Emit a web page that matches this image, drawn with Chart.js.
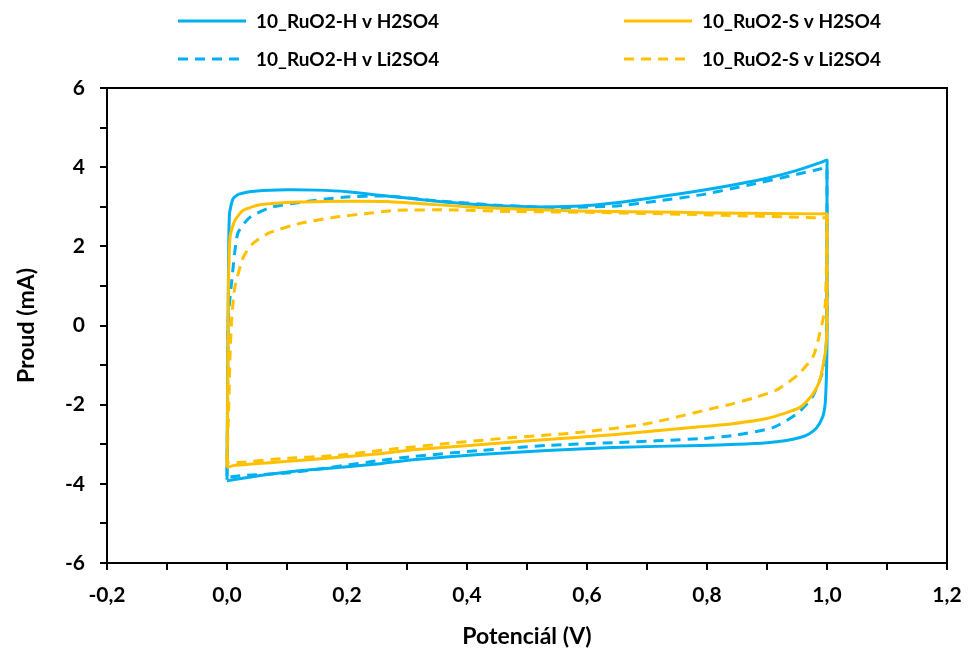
<!DOCTYPE html>
<html>
  <head>
    <title>CV RuO2</title>
    <script src="https://cdn.jsdelivr.net/npm/chart.js@4.4.0/dist/chart.umd.min.js"></script>
    <style>
      body { margin: 0; background: #fff; }
    </style>
  </head>
  <body>
    <canvas id="cvChart" width="970" height="653"></canvas>

    <script>
      // series labels
      var labels = ["10_RuO2-H v H2SO4", "10_RuO2-H v Li2SO4", "10_RuO2-S v H2SO4", "10_RuO2-S v Li2SO4"];

      // 10_RuO2-H v H2SO4 (potential V, current mA)
      var hH2Pot = [0, 0.001, 0.002, 0.004, 0.01, 0.02, 0.05, 0.1, 0.15, 0.2, 0.255, 0.3, 0.35, 0.42, 0.5, 0.55, 0.6, 0.66, 0.72, 0.79, 0.85, 0.9, 0.95, 0.99, 1.0,
                    1.0, 1.0, 1.0, 1.0, 0.999, 0.997, 0.993, 0.983, 0.97, 0.955, 0.93, 0.9, 0.85, 0.79, 0.643, 0.533, 0.42, 0.31, 0.255, 0.2, 0.12, 0.05, 0.0];
      var hH2Cur = [-3.9, -1.5, 0.5, 2.8, 3.2, 3.32, 3.4, 3.43, 3.42, 3.38, 3.29, 3.22, 3.14, 3.05, 3.0, 3.0, 3.03, 3.12, 3.25, 3.41, 3.57, 3.72, 3.92, 4.12, 4.18,
                    4.05, 2.0, 0, -0.5, -1.3, -1.97, -2.3, -2.58, -2.74, -2.83, -2.91, -2.96, -3.0, -3.03, -3.08, -3.16, -3.26, -3.39, -3.49, -3.57, -3.67, -3.8, -3.92];

      // 10_RuO2-H v Li2SO4
      var hLiPot = [0, 0.001, 0.002, 0.008, 0.018, 0.038, 0.072, 0.122, 0.193, 0.267, 0.35, 0.45, 0.55, 0.65, 0.72, 0.79, 0.87, 0.95, 0.99, 1.0,
                    1.0, 1.0, 1.0, 0.999, 0.997, 0.992, 0.975, 0.95, 0.91, 0.843, 0.788, 0.643, 0.533, 0.42, 0.31, 0.255, 0.105, 0.027, 0.008, 0];
      var hLiCur = [-3.8, -2.0, 0.13, 1.14, 2.33, 2.73, 2.98, 3.11, 3.24, 3.27, 3.15, 3.04, 2.98, 3.02, 3.15, 3.3, 3.55, 3.82, 3.96, 4.0,
                    3.9, 2.0, 0, -0.4, -0.71, -1.21, -1.82, -2.23, -2.58, -2.78, -2.86, -2.96, -3.03, -3.16, -3.31, -3.41, -3.72, -3.79, -3.82, -3.8];

      // 10_RuO2-S v H2SO4
      var sH2Pot = [0, 0.001, 0.002, 0.005, 0.013, 0.027, 0.055, 0.12, 0.2, 0.267, 0.42, 0.588, 0.755, 0.82, 0.99, 1.0,
                    1.0, 1.0, 1.0, 0.999, 0.997, 0.988, 0.977, 0.955, 0.9, 0.843, 0.788, 0.643, 0.533, 0.42, 0.31, 0.255, 0.12, 0.01, 0];
      var sH2Cur = [-3.59, -2.0, 0.56, 2.23, 2.65, 2.91, 3.05, 3.12, 3.14, 3.13, 2.98, 2.89, 2.86, 2.84, 2.82, 2.82,
                    2.7, 1.5, 0, -0.4, -0.71, -1.39, -1.72, -2.07, -2.35, -2.48, -2.56, -2.76, -2.88, -3.01, -3.14, -3.24, -3.41, -3.54, -3.59];

      // 10_RuO2-S v Li2SO4
      var sLiPot = [0, 0.003, 0.005, 0.008, 0.013, 0.027, 0.043, 0.072, 0.122, 0.177, 0.233, 0.283, 0.38, 0.477, 0.6, 0.788, 0.99, 1.0,
                    1.0, 0.999, 0.997, 0.993, 0.988, 0.977, 0.952, 0.917, 0.88, 0.842, 0.808, 0.7, 0.588, 0.477, 0.367, 0.283, 0.177, 0.093, 0.022, 0];
      var sLiCur = [-3.46, -2.0, -0.8, 0.2, 0.96, 1.72, 2.07, 2.35, 2.58, 2.73, 2.83, 2.91, 2.92, 2.88, 2.86, 2.8, 2.72, 2.72,
                    2.6, 1.5, 0.5, 0.13, -0.2, -0.78, -1.24, -1.62, -1.82, -1.98, -2.1, -2.48, -2.7, -2.83, -2.98, -3.11, -3.29, -3.36, -3.46, -3.46];

      var blue = "#00B0F0";
      var yellow = "#FFC000";
      var fontName = "Lato, Carlito, Calibri, sans-serif";

      function toPoints(xs, ys) {
        return xs.map(function (x, i) { return { x: x, y: ys[i] }; });
      }

      function makeSet(label, xs, ys, colour, dashed, order) {
        return {
          label: label,
          data: toPoints(xs, ys),
          showLine: true,
          borderColor: colour,
          backgroundColor: colour,
          borderWidth: 3,
          borderDash: dashed ? [10, 7] : [],
          pointRadius: 0,
          tension: 0.2,
          order: order
        };
      }

      // box round the plot area
      var frame = {
        id: "frame",
        afterDraw: function (chart) {
          var a = chart.chartArea;
          var c = chart.ctx;
          c.save();
          c.strokeStyle = "#000";
          c.lineWidth = 2;
          c.strokeRect(a.left, a.top, a.right - a.left, a.bottom - a.top);
          c.restore();
        }
      };

      // two-by-two legend above the plot
      var legendSpots = [[178, 21], [178, 59], [624, 21], [624, 59]];
      var legendBox = {
        id: "legendBox",
        afterDraw: function (chart) {
          var c = chart.ctx;
          c.save();
          chart.data.datasets.forEach(function (ds, i) {
            var p = legendSpots[i];
            c.strokeStyle = ds.borderColor;
            c.lineWidth = 3;
            c.setLineDash(ds.borderDash);
            c.beginPath();
            c.moveTo(p[0], p[1]);
            c.lineTo(p[0] + 68, p[1]);
            c.stroke();
            c.setLineDash([]);
            c.fillStyle = "#000";
            c.font = "bold 19px " + fontName;
            c.textBaseline = "middle";
            c.textAlign = "left";
            c.fillText(ds.label, p[0] + 78, p[1] + 1);
          });
          c.restore();
        }
      };

      var ctx = document.getElementById("cvChart").getContext("2d");
      var cvChart = new Chart(ctx, {
        type: "scatter",
        data: {
          datasets: [
            makeSet(labels[0], hH2Pot, hH2Cur, blue, false, 3),
            makeSet(labels[1], hLiPot, hLiCur, blue, true, 2),
            makeSet(labels[2], sH2Pot, sH2Cur, yellow, false, 1),
            makeSet(labels[3], sLiPot, sLiCur, yellow, true, 0)
          ]
        },
        options: {
          responsive: false,
          animation: false,
          layout: { padding: { top: 88, right: 23, left: 0, bottom: 0 } },
          plugins: {
            legend: { display: false },
            tooltip: { enabled: false }
          },
          scales: {
            x: {
              type: "linear",
              min: -0.2,
              max: 1.2,
              afterFit: function (s) { s.height = 90; s.paddingRight = 0; s.paddingLeft = 0; },
              ticks: {
                stepSize: 0.1,
                autoSkip: false,
                maxRotation: 0,
                padding: 13,
                color: "#000",
                font: { family: fontName, size: 21, weight: "bold" },
                callback: function (v) {
                  var n = Math.round(v * 10);
                  if (n % 2 !== 0) return "";
                  return (n / 10).toFixed(1).replace(".", ",");
                }
              },
              grid: { drawOnChartArea: false, tickLength: 7, color: "#000", lineWidth: 2 },
              border: { color: "#000", width: 2 },
              title: {
                display: true,
                text: "Potenciál (V)",
                color: "#000",
                font: { family: fontName, size: 23, weight: "bold" },
                padding: { top: 0, bottom: 3 }
              }
            },
            y: {
              min: -6,
              max: 6,
              afterFit: function (s) { s.width = 107; s.paddingTop = 0; s.paddingBottom = 0; },
              ticks: {
                stepSize: 1,
                autoSkip: false,
                padding: 15,
                color: "#000",
                font: { family: fontName, size: 21, weight: "bold" },
                callback: function (v) {
                  var n = Math.round(v);
                  if (n % 2 !== 0) return "";
                  return String(n);
                }
              },
              grid: { drawOnChartArea: false, tickLength: 7, color: "#000", lineWidth: 2 },
              border: { color: "#000", width: 2 },
              title: {
                display: true,
                text: "Proud (mA)",
                color: "#000",
                font: { family: fontName, size: 23, weight: "bold" },
                padding: { top: 13, bottom: 0 }
              }
            }
          }
        },
        plugins: [frame, legendBox]
      });
    </script>
  </body>
</html>
